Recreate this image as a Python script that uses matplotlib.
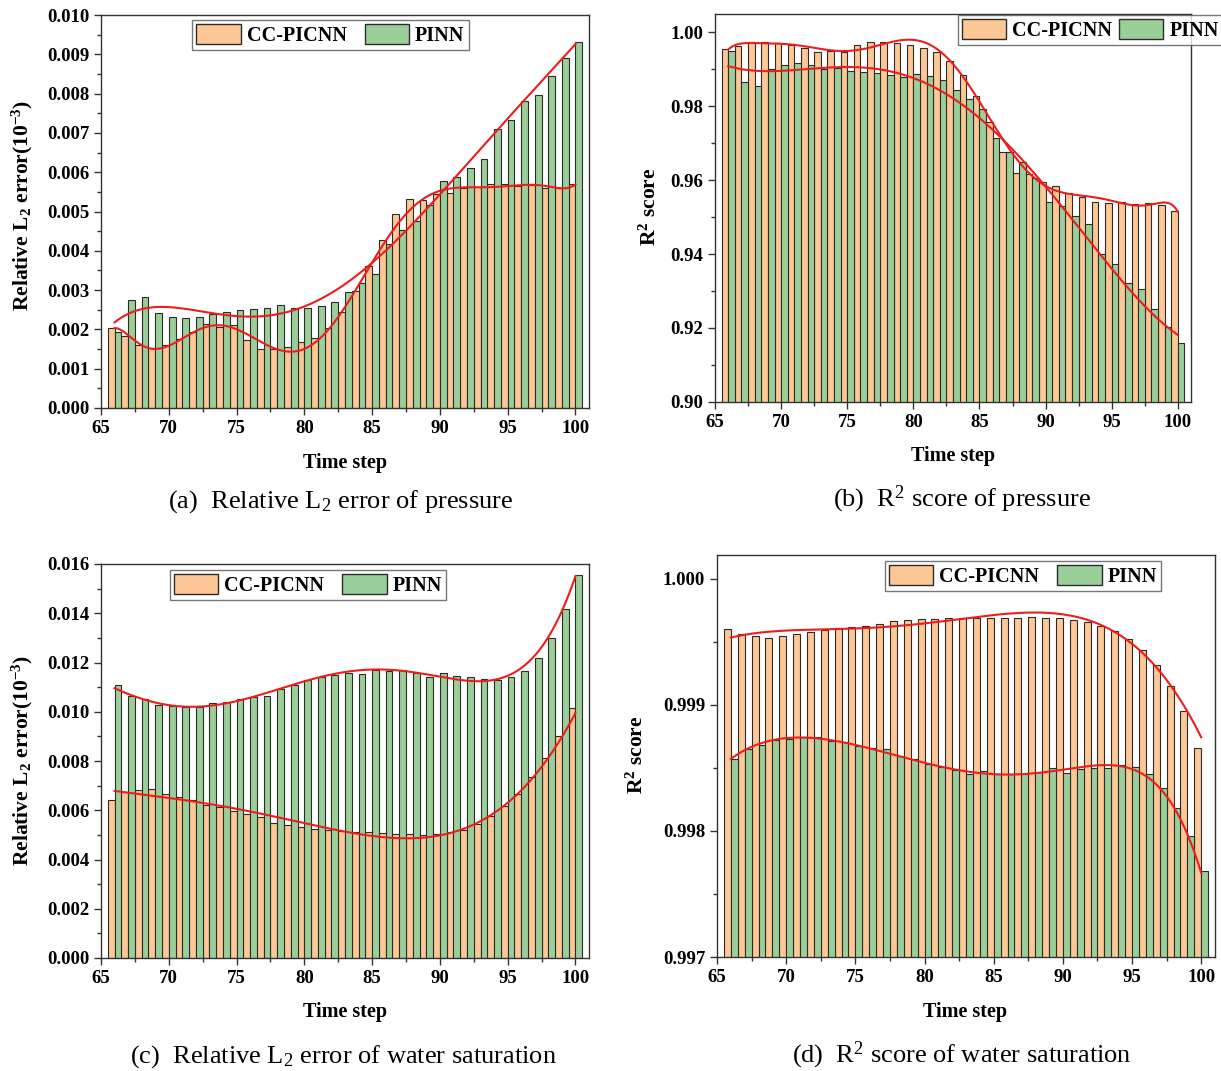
import numpy as np
import matplotlib
matplotlib.use("Agg")
from matplotlib import pyplot as plt
from matplotlib.ticker import MultipleLocator, FormatStrFormatter

plt.rcParams['font.family'] = ['Liberation Serif', 'DejaVu Serif']
plt.rcParams['mathtext.fontset'] = 'custom'
plt.rcParams['mathtext.rm'] = 'Liberation Serif'
plt.rcParams['mathtext.it'] = 'Liberation Serif:italic'
plt.rcParams['mathtext.bf'] = 'Liberation Serif:bold'

steps = np.arange(66, 101)

# (a) relative L2 error of pressure
l2_p_cc = [0.002044, 0.001832, 0.001595, 0.001518, 0.001603, 0.001747, 0.001942,
           0.002129, 0.002070, 0.002112, 0.001730, 0.001493, 0.001493, 0.001544,
           0.001688, 0.001790, 0.002027, 0.002434, 0.002977, 0.003622, 0.004275,
           0.004945, 0.005310, 0.005293, 0.005445, 0.005479, 0.005589, 0.005632,
           0.005691, 0.005691, 0.005649, 0.005674, 0.005607, 0.005607, 0.005691]
l2_p_pinn = [0.001942, 0.002740, 0.002833, 0.002409, 0.002324, 0.002282, 0.002324,
             0.002392, 0.002451, 0.002494, 0.002519, 0.002536, 0.002612, 0.002553,
             0.002553, 0.002595, 0.002706, 0.002943, 0.003172, 0.003410, 0.004165,
             0.004521, 0.004767, 0.005157, 0.005785, 0.005869, 0.006115, 0.006327,
             0.007091, 0.007328, 0.007820, 0.007964, 0.008456, 0.008914, 0.009321]

# (b) R2 score of pressure
r2_p_cc = [0.9956, 0.9964, 0.9973, 0.9975, 0.9972, 0.9966, 0.9957, 0.9948, 0.9951,
           0.9948, 0.9965, 0.9973, 0.9973, 0.9972, 0.9965, 0.9959, 0.9948, 0.9924,
           0.9886, 0.9828, 0.9758, 0.9675, 0.9620, 0.9618, 0.9596, 0.9585, 0.9564,
           0.9555, 0.9541, 0.9537, 0.9541, 0.9535, 0.9539, 0.9532, 0.9517]
r2_p_pinn = [0.9951, 0.9866, 0.9856, 0.9901, 0.9911, 0.9916, 0.9911, 0.9902, 0.9904,
             0.9896, 0.9892, 0.9889, 0.9886, 0.9879, 0.9887, 0.9882, 0.9870, 0.9843,
             0.9819, 0.9793, 0.9713, 0.9675, 0.9648, 0.9605, 0.9540, 0.9530, 0.9503,
             0.9480, 0.9399, 0.9373, 0.9321, 0.9304, 0.9252, 0.9201, 0.9160]

# (c) relative L2 error of water saturation
l2_s_cc = [0.006409, 0.006721, 0.006816, 0.006843, 0.006680, 0.006545, 0.006409,
           0.006233, 0.006138, 0.005976, 0.005840, 0.005732, 0.005501, 0.005420,
           0.005325, 0.005257, 0.005217, 0.005149, 0.005122, 0.005122, 0.005095,
           0.005054, 0.005027, 0.005014, 0.005054, 0.005122, 0.005217, 0.005461,
           0.005759, 0.006165, 0.006680, 0.007331, 0.008117, 0.009011, 0.010135]
l2_s_pinn = [0.011070, 0.010637, 0.010528, 0.010271, 0.010230, 0.010190, 0.010190,
             0.010339, 0.010379, 0.010528, 0.010583, 0.010623, 0.010935, 0.011084,
             0.011287, 0.011396, 0.011490, 0.011585, 0.011531, 0.011694, 0.011653,
             0.011694, 0.011585, 0.011396, 0.011585, 0.011436, 0.011396, 0.011341,
             0.011287, 0.011396, 0.011639, 0.012181, 0.012994, 0.014160, 0.015555]

# (d) R2 score of water saturation
r2_s_cc = [0.999606, 0.999564, 0.999545, 0.999534, 0.999550, 0.999564, 0.999577,
           0.999593, 0.999606, 0.999622, 0.999630, 0.999646, 0.999664, 0.999675,
           0.999683, 0.999685, 0.999690, 0.999693, 0.999688, 0.999693, 0.999693,
           0.999693, 0.999696, 0.999693, 0.999688, 0.999677, 0.999659, 0.999630,
           0.999587, 0.999521, 0.999434, 0.999317, 0.999153, 0.998952, 0.998661]
r2_s_pinn = [0.998569, 0.998651, 0.998680, 0.998725, 0.998733, 0.998746, 0.998743,
             0.998712, 0.998706, 0.998675, 0.998661, 0.998651, 0.998598, 0.998571,
             0.998534, 0.998511, 0.998481, 0.998455, 0.998476, 0.998450, 0.998455,
             0.998450, 0.998471, 0.998503, 0.998460, 0.998492, 0.998503, 0.998503,
             0.998526, 0.998508, 0.998455, 0.998341, 0.998185, 0.997958, 0.997680]

ORANGE = '#FDC895'
GREEN = '#9BCF99'
EDGE = '#2b2b2b'


def panel(ax, cc, pinn, deg_cc, deg_pinn, ylim, ymajor, yminor, yfmt, legend_anchor,
          colspace=0.9):
    ax.bar(steps - 0.25, cc, width=0.5, color=ORANGE, edgecolor=EDGE, linewidth=0.8,
           label='CC-PICNN', zorder=2)
    ax.bar(steps + 0.25, pinn, width=0.5, color=GREEN, edgecolor=EDGE, linewidth=0.8,
           label='PINN', zorder=2)
    # smooth trend lines fitted to each series
    xs = np.linspace(steps[0], steps[-1], 400)
    for vals, deg in ((cc, deg_cc), (pinn, deg_pinn)):
        fit = np.polynomial.Polynomial.fit(steps, vals, deg)
        ax.plot(xs, fit(xs), color='#EE1C1C', lw=1.5, zorder=3)

    ax.set_xlim(65, 101)
    ax.set_ylim(*ylim)
    ax.xaxis.set_major_locator(MultipleLocator(5))
    ax.xaxis.set_minor_locator(MultipleLocator(2.5))
    ax.yaxis.set_major_locator(MultipleLocator(ymajor))
    ax.yaxis.set_minor_locator(MultipleLocator(yminor))
    ax.yaxis.set_major_formatter(FormatStrFormatter(yfmt))
    ax.tick_params(which='both', direction='out', top=False, right=False,
                   width=1.0, color='#333333')
    ax.tick_params(which='major', length=5, labelsize=13.5)
    ax.tick_params(which='minor', length=3)
    for lab in ax.get_xticklabels() + ax.get_yticklabels():
        lab.set_fontweight('bold')
    for sp in ax.spines.values():
        sp.set_linewidth(1.0)
        sp.set_color('#333333')

    leg = ax.legend(loc='upper left', bbox_to_anchor=legend_anchor, ncol=2,
                    frameon=True, fancybox=False, edgecolor='#555555',
                    handlelength=2.2, handleheight=1.15, handletextpad=0.3,
                    columnspacing=colspace, borderpad=0.2, borderaxespad=0.0,
                    prop={'weight': 'bold', 'size': 14.5})
    leg.get_frame().set_linewidth(1.0)
    for h in leg.legend_handles:
        h.set_linewidth(1.0)
    return ax


fig = plt.figure(figsize=(12.21, 10.71), dpi=100)
W, H = 1221.0, 1071.0


def px_axes(l, r, t, b):
    return fig.add_axes([l / W, 1 - b / H, (r - l) / W, (b - t) / H])


ax_a = px_axes(101, 589, 15, 408)
panel(ax_a, l2_p_cc, l2_p_pinn, 9, 5, (0, 0.010), 0.001, 0.0005, '%.3f', (0.187, 0.987))

ax_b = px_axes(715, 1191, 14, 401.7)
panel(ax_b, r2_p_cc, r2_p_pinn, 10, 4, (0.90, 1.005), 0.02, 0.01, '%.2f', (0.51, 0.997),
      colspace=0.35)

ax_c = px_axes(101, 589, 564, 958)
panel(ax_c, l2_s_cc, l2_s_pinn, 4, 5, (0, 0.016), 0.002, 0.001, '%.3f', (0.141, 0.985))

ax_d = px_axes(717, 1215, 555, 957)
panel(ax_d, r2_s_cc, r2_s_pinn, 4, 7, (0.997, 1.00019), 0.001, 0.0005, '%.3f', (0.337, 0.985))

# axis titles
lab_kw = dict(fontsize=14.5, fontweight='bold', ha='center', va='center')
for cx, cy in ((345, 463), (953, 456), (345, 1012), (965, 1012)):
    fig.text(cx / W, 1 - cy / H, 'Time step', **lab_kw)

l2_label = r'Relative L$_\mathbf{2}$ error(10$^{\mathbf{-3}}$)'
ylab_kw = dict(lab_kw, fontsize=15.5)
fig.text(22 / W, 1 - 205 / H, l2_label, rotation=90, **ylab_kw)
fig.text(22 / W, 1 - 760 / H, l2_label, rotation=90, **ylab_kw)
fig.text(650 / W, 1 - 207 / H, r'R$^\mathbf{2}$ score', rotation=90, **ylab_kw)
fig.text(637 / W, 1 - 755 / H, r'R$^\mathbf{2}$ score', rotation=90, **ylab_kw)

# sub-figure captions
cap_kw = dict(fontsize=19, ha='center', va='center')
fig.text(341 / W, 1 - 502 / H, r'(a)  Relative L$_2$ error of pressure', **cap_kw)
fig.text(962 / W, 1 - 499 / H, r'(b)  R$^2$ score of pressure', **cap_kw)
fig.text(343 / W, 1 - 1057 / H, r'(c)  Relative L$_2$ error of water saturation', **cap_kw)
fig.text(962 / W, 1 - 1055 / H, r'(d)  R$^2$ score of water saturation', **cap_kw)

fig.savefig('out.png', dpi=100)
